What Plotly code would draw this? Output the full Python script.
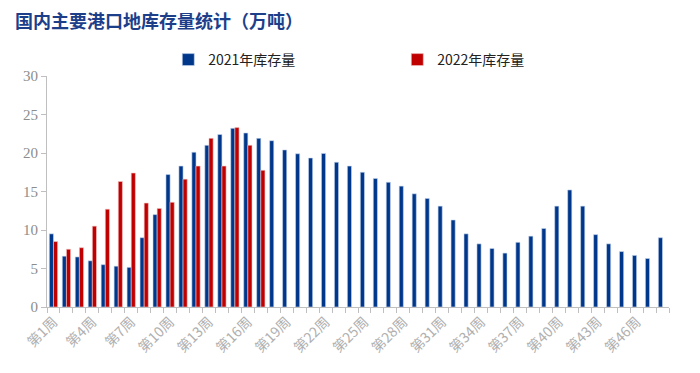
import plotly.graph_objects as go

weeks = [f"第{i}周" for i in range(1, 49)]
stock_2021 = [9.5, 6.6, 6.5, 6.0, 5.5, 5.3, 5.15, 9.0, 12.0, 17.2, 18.3, 20.1,
              21.0, 22.4, 23.2, 22.6, 21.9, 21.6, 20.4, 19.9, 19.35, 19.95, 18.8, 18.3,
              17.5, 16.7, 16.2, 15.7, 14.7, 14.1, 13.1, 11.3, 9.5, 8.2, 7.6, 7.0,
              8.4, 9.2, 10.2, 13.1, 15.2, 13.1, 9.4, 8.2, 7.2, 6.7, 6.3, 9.0]
stock_2022 = [8.5, 7.5, 7.7, 10.5, 12.7, 16.3, 17.4, 13.5, 12.8, 13.6, 16.6, 18.3,
              21.9, 18.3, 23.3, 21.0, 17.75] + [None] * 31
tick_text = [w if i % 3 == 0 else "" for i, w in enumerate(weeks)]

# page body has an 8px margin, so the figure is sized to fit the 700x373 window
W, H = 684, 357

fig = go.Figure()
fig.add_trace(go.Bar(x=weeks, y=stock_2021, name="2021年库存量",
                     marker=dict(color="#00378A", line=dict(color="#C9D6EE", width=0.6))))
fig.add_trace(go.Bar(x=weeks, y=stock_2022, name="2022年库存量",
                     marker=dict(color="#C00000", line=dict(color="#F0C8C8", width=0.6))))

fig.update_layout(
    width=W, height=H,
    margin=dict(l=39, r=23, t=68, b=58, autoexpand=False),
    paper_bgcolor="white", plot_bgcolor="white",
    barmode="group", bargap=0.36, bargroupgap=0,
    title=dict(text="<b>国内主要港口地库存量统计（万吨）</b>",
               x=7 / W, xref="container", xanchor="left",
               y=1 - 14 / H, yref="container", yanchor="middle",
               font=dict(family="Noto Sans CJK SC", size=18, color="#1D3F8A")),
    legend=dict(orientation="h", x=0.195, xanchor="left",
                y=1 - 52 / H, yref="container", yanchor="middle",
                font=dict(family="Noto Sans CJK SC", size=14, color="#222222"),
                entrywidth=184, itemwidth=30, bgcolor="rgba(0,0,0,0)"),
    font=dict(family="Noto Sans CJK SC"),
)
fig.update_yaxes(range=[0, 30], dtick=5, showgrid=False, zeroline=False, automargin=False,
                 showline=True, linecolor="#BFBFBF", linewidth=1,
                 ticks="outside", ticklen=5, tickcolor="#BFBFBF",
                 tickfont=dict(family="Liberation Serif", size=15, color="#8C8C8C"))
fig.update_xaxes(tickmode="array", tickvals=weeks, ticktext=tick_text, tickangle=-45,
                 tickson="boundaries", ticks="outside", ticklen=5, tickcolor="#BFBFBF",
                 showline=True, linecolor="#BFBFBF", linewidth=1, showgrid=False, automargin=False,
                 tickfont=dict(family="Noto Sans CJK SC", size=14, color="#B0B0B0"))

fig.write_html("out.html")
